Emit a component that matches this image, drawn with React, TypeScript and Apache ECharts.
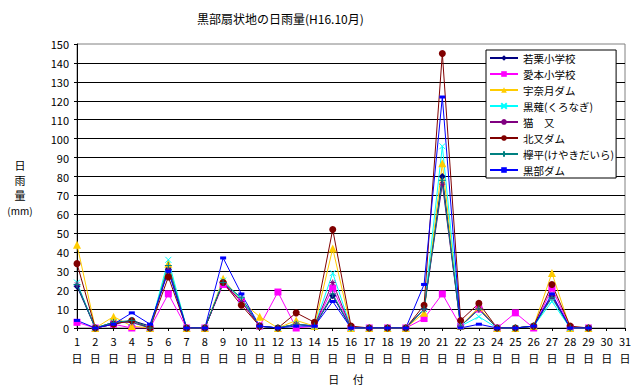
import React, { useEffect, useRef } from "react";
import * as echarts from "echarts";

const days = Array.from({ length: 31 }, (_, i) => String(i + 1));
const seriesNames = [
  "若栗小学校",
  "愛本小学校",
  "宇奈月ダム",
  "黒薙(くろなぎ)",
  "猫　又",
  "北又ダム",
  "欅平(けやきだいら)",
  "黒部ダム",
];
const wakakuri = [22, 0, 2, 4, 1, 31, 0, 0, 24, 14, 1, 0, 2, 1, 17, 0, 0, 0, 0, 10, 80, 1, 10, 0, 0, 1, 17, 0, 0];
const aimoto = [3, 0, 2, 0, 0, 18, 0, 0, 23, 14, 1, 19, 0, 1, 21, 0, 0, 0, 0, 5, 18, 1, 10, 0, 8, 0, 21, 0, 0];
const unazuki = [44, 0, 6, 1, 0, 34, 0, 0, 26, 14, 6, 0, 4, 1, 42, 0, 0, 0, 0, 8, 87, 1, 11, 0, 0, 1, 29, 0, 0];
const kuronagi = [24, 0, 3, 3, 0, 36, 0, 0, 25, 15, 1, 0, 2, 1, 29, 0, 0, 0, 0, 10, 96, 1, 6, 0, 0, 1, 14, 0, 0];
const nekomata = [23, 0, 3, 3, 0, 31, 0, 0, 24, 14, 1, 0, 2, 1, 24, 0, 0, 0, 0, 10, 76, 1, 10, 0, 0, 1, 17, 0, 0];
const kitamata = [34, 0, 2, 4, 0, 27, 0, 0, 24, 12, 1, 0, 8, 3, 52, 1, 0, 0, 0, 12, 145, 4, 13, 0, 0, 1, 23, 1, 0];
const keyakidaira = [23, 0, 3, 4, 0, 33, 0, 0, 24, 16, 1, 0, 2, 1, 18, 0, 0, 0, 0, 10, 78, 1, 10, 0, 0, 1, 16, 0, 0];
const kurobe = [4, 0, 2, 8, 2, 30, 0, 0, 37, 18, 1, 0, 1, 1, 14, 0, 0, 0, 0, 23, 122, 0, 2, 0, 0, 1, 18, 0, 0];
const yTicks = [0, 150, 10];

const FONT = "'Noto Sans CJK JP', sans-serif";

export default function App() {
  const ref = useRef<HTMLDivElement>(null);
  useEffect(() => {
    if (!ref.current) return;
    const chart = echarts.init(ref.current, null, { renderer: "svg" });
    const dataSets = [wakakuri, aimoto, unazuki, kuronagi, nekomata, kitamata, keyakidaira, kurobe];
    const colors = ["#000080", "#FF00FF", "#FFCC00", "#00FFFF", "#800080", "#800000", "#008080", "#0000FF"];
    const symbols: any[] = [
      "diamond",
      "rect",
      "triangle",
      "path://M0,0L10,10M10,0L0,10",
      "path://M5,0L5,10M0,5L10,5M1.5,1.5L8.5,8.5M8.5,1.5L1.5,8.5",
      "circle",
      "path://M5,0L5,10M0,5L10,5",
      "rect",
    ];
    const sizes: any[] = [7, 7, 8, 6, 6, 7, 7, [6, 3]];
    const stroked = [false, false, false, true, true, false, true, false];
    const series = dataSets.map((d, i) => ({
      name: seriesNames[i],
      type: "line",
      data: d,
      symbol: symbols[i],
      symbolSize: sizes[i],
      showSymbol: true,
      lineStyle: { color: colors[i], width: 1 },
      itemStyle: stroked[i]
        ? { color: colors[i], borderColor: colors[i], borderWidth: 1 }
        : { color: colors[i], borderWidth: 0 },
      emphasis: { disabled: true },
    }));
    chart.setOption({
      animation: false,
      textStyle: { fontFamily: FONT },
      title: {
        text: "黒部扇状地の日雨量(H16.10月)",
        left: 192,
        top: 7,
        textStyle: { fontFamily: FONT, fontSize: 12, fontWeight: "normal", color: "#000" },
      },
      grid: {
        left: 77,
        right: 15,
        top: 44,
        bottom: 59,
        show: true,
        borderColor: "#808080",
        borderWidth: 1,
        backgroundColor: "transparent",
      },
      legend: {
        orient: "vertical",
        left: 486,
        top: 50,
        padding: [2, 2, 2, 3],
        itemWidth: 28,
        itemHeight: 7,
        itemGap: 4,
        backgroundColor: "#fff",
        borderColor: "#000",
        borderWidth: 1,
        textStyle: { fontFamily: FONT, fontSize: 10.5, color: "#000", lineHeight: 12 },
        data: seriesNames,
      },
      xAxis: {
        type: "category",
        data: days,
        boundaryGap: false,
        axisLine: { lineStyle: { color: "#000", width: 1 } },
        axisTick: { show: true, length: 3, lineStyle: { color: "#000" } },
        axisLabel: {
          interval: 0,
          margin: 4,
          color: "#000",
          fontSize: 11,
          lineHeight: 17,
          fontFamily: FONT,
          formatter: (v: string) => v + "\n日",
        },
      },
      yAxis: {
        type: "value",
        min: yTicks[0],
        max: yTicks[1],
        interval: yTicks[2],
        axisLine: { show: true, lineStyle: { color: "#000", width: 1 } },
        axisTick: { show: true, length: 3, lineStyle: { color: "#000" } },
        axisLabel: { color: "#000", fontSize: 11, margin: 8, fontFamily: FONT },
        splitLine: { show: true, showMaxLine: false, lineStyle: { color: "#000", width: 1 } },
      },
      graphic: [
        { type: "text", x: 20, y: 165, style: { text: "日", fontSize: 11, fontFamily: FONT, fill: "#000", align: "center", verticalAlign: "middle" } },
        { type: "text", x: 20, y: 180, style: { text: "雨", fontSize: 11, fontFamily: FONT, fill: "#000", align: "center", verticalAlign: "middle" } },
        { type: "text", x: 20, y: 195, style: { text: "量", fontSize: 11, fontFamily: FONT, fill: "#000", align: "center", verticalAlign: "middle" } },
        { type: "text", x: 20, y: 210, style: { text: "(mm)", fontSize: 10, fontFamily: FONT, fill: "#000", align: "center", verticalAlign: "middle" } },
        { type: "text", x: 346, y: 379, style: { text: "日　 付", fontSize: 11, fontFamily: FONT, fill: "#000", align: "center", verticalAlign: "middle" } },
      ],
      series,
    });
    return () => chart.dispose();
  }, []);
  return <div ref={ref} style={{ position: "absolute", left: 0, top: 0, width: 640, height: 387 }} />;
}
